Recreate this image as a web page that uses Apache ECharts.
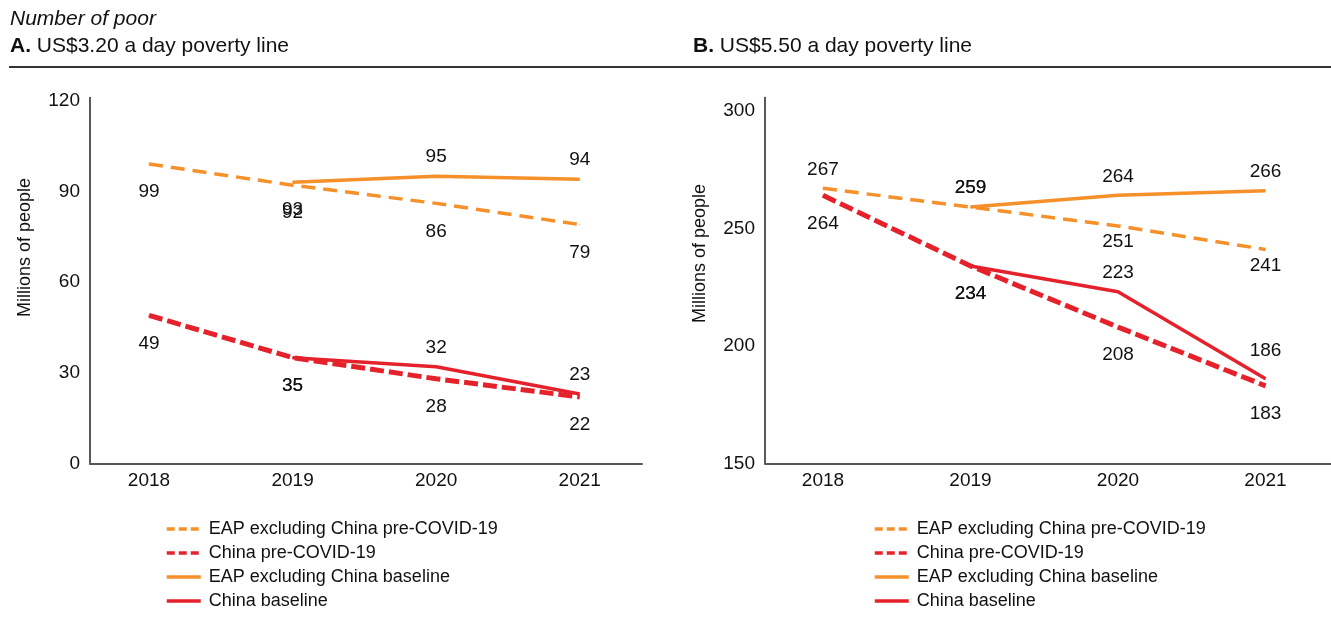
<!DOCTYPE html>
<html>
<head>
<meta charset="utf-8">
<script src="https://cdn.jsdelivr.net/npm/echarts@6.0.0/dist/echarts.min.js"></script>
<style>
  html, body { margin: 0; padding: 0; background: #fff; }
  #chart { width: 1331px; height: 620px; }
</style>
</head>
<body>
<div id="chart"></div>
<script>
// years on the x axis
var years = [2018, 2019, 2020, 2021];

// panel A: US$3.20 a day
var eapPreA = [99, 92, 86, 79];
var chinaPreA = [49, 35, 28, 22];
var eapBaseA = [null, 93, 95, 94];
var chinaBaseA = [null, 35, 32, 23];
var yTicksA = [0, 30, 60, 90, 120];

// panel B: US$5.50 a day
var eapPreB = [267, 259, 251, 241];
var chinaPreB = [264, 234, 208, 183];
var eapBaseB = [null, 259, 264, 266];
var chinaBaseB = [null, 234, 223, 186];
var yTicksB = [150, 200, 250, 300];

var names = [
  'EAP excluding China pre-COVID-19',
  'China pre-COVID-19',
  'EAP excluding China baseline',
  'China baseline'
];

var ORANGE = '#F5902A';
var RED = '#E5222B';
var FONT = 'Liberation Sans';

// label side for each point: t above, T further above, b below, n just below
var SIDES = {
  t: { position: 'top', distance: 9 },
  T: { position: 'top', distance: 18 },
  b: { position: 'bottom', distance: 18 },
  n: { position: 'bottom', distance: 6 }
};

function mkSeries(name, idx, vals, sides, color, dashed, width, dash) {
  var data = years.map(function (y, i) {
    var s = SIDES[sides[i]] || SIDES.b;
    return { value: [y, vals[i]], label: { position: s.position, distance: s.distance } };
  });
  return {
    name: name,
    type: 'line',
    xAxisIndex: idx,
    yAxisIndex: idx,
    data: data,
    symbol: 'circle',
    symbolSize: 1,
    itemStyle: { color: color },
    lineStyle: { color: color, width: width, type: dashed ? dash : 'solid', cap: 'butt' },
    label: {
      show: true,
      color: '#111',
      fontFamily: FONT,
      fontSize: 19,
      formatter: function (p) { return p.value[1]; }
    },
    emphasis: { disabled: true },
    silent: true,
    animation: false
  };
}

function xAxisOf(idx, min, max) {
  return {
    type: 'value',
    gridIndex: idx,
    min: min,
    max: max,
    axisLine: { lineStyle: { color: '#555', width: 2 } },
    axisTick: { show: false },
    splitLine: { show: false },
    axisLabel: {
      customValues: years,
      formatter: function (v) { return String(v); },
      color: '#111',
      fontFamily: FONT,
      fontSize: 19,
      margin: 8
    }
  };
}

// namePad shifts the rotated axis name up the axis
function yAxisOf(idx, min, max, ticks, namePad) {
  return {
    type: 'value',
    gridIndex: idx,
    min: min,
    max: max,
    name: 'Millions of people',
    nameLocation: 'middle',
    nameRotate: 90,
    nameGap: 56,
    nameTextStyle: { color: '#111', fontFamily: FONT, fontSize: 18, padding: [0, 0, 0, namePad] },
    axisLine: { show: true, lineStyle: { color: '#222', width: 1.5 } },
    axisTick: { show: false },
    splitLine: { show: false },
    axisLabel: {
      customValues: ticks,
      color: '#111',
      fontFamily: FONT,
      fontSize: 19,
      margin: 10
    }
  };
}

function legendOf(left) {
  var colors = [ORANGE, RED, ORANGE, RED];
  return {
    orient: 'vertical',
    left: left,
    top: 515,
    itemWidth: 34,
    itemHeight: 12,
    itemGap: 6,
    textStyle: { color: '#111', fontFamily: FONT, fontSize: 18, padding: [0, 0, 0, 3] },
    data: names.map(function (n, i) {
      return {
        name: n,
        itemStyle: { opacity: 0 },
        lineStyle: { color: colors[i], width: 3.5, type: i < 2 ? [8, 4] : 'solid' }
      };
    })
  };
}

var chart = echarts.init(document.getElementById('chart'));

chart.setOption({
  animation: false,
  backgroundColor: '#fff',
  graphic: [
    { type: 'text', left: 10, top: 9, style: { text: 'Number of poor', font: 'italic 21px ' + FONT, fill: '#111' } },
    { type: 'text', left: 10, top: 36, style: {
        text: '{b|A.} US$3.20 a day poverty line', font: '21px ' + FONT, fill: '#111',
        rich: { b: { fontWeight: 'bold', fontSize: 21, fontFamily: FONT } } } },
    { type: 'text', left: 693, top: 36, style: {
        text: '{b|B.} US$5.50 a day poverty line', font: '21px ' + FONT, fill: '#111',
        rich: { b: { fontWeight: 'bold', fontSize: 21, fontFamily: FONT } } } },
    { type: 'line', shape: { x1: 9, y1: 67, x2: 1331, y2: 67 }, style: { stroke: '#333', lineWidth: 2 } }
  ],
  grid: [
    { left: 90, top: 97.5, width: 552, height: 366 },
    { left: 765, top: 97.5, width: 566, height: 366 }
  ],
  xAxis: [
    xAxisOf(0, 2017.589, 2021.434),
    xAxisOf(1, 2017.607, 2021.444)
  ],
  yAxis: [
    yAxisOf(0, 0, 121, yTicksA, 66),
    yAxisOf(1, 150, 305.6, yTicksB, 54)
  ],
  legend: [legendOf(160), legendOf(868)],
  series: [
    mkSeries(names[0], 0, eapPreA, 'bbbb', ORANGE, true, 3.5, [14, 8]),
    mkSeries(names[2], 0, eapBaseA, 'xbtt', ORANGE, false, 3.5),
    mkSeries(names[3], 0, chinaBaseA, 'xbtt', RED, false, 3.5),
    mkSeries(names[1], 0, chinaPreA, 'bbbb', RED, true, 5, [14, 5]),

    mkSeries(names[0], 1, eapPreB, 'ttnn', ORANGE, true, 3.5, [14, 8]),
    mkSeries(names[2], 1, eapBaseB, 'tttt', ORANGE, false, 3.5),
    mkSeries(names[3], 1, chinaBaseB, 'bbtT', RED, false, 3.5),
    mkSeries(names[1], 1, chinaPreB, 'bbbb', RED, true, 5, [14, 5])
  ]
});
</script>
</body>
</html>
